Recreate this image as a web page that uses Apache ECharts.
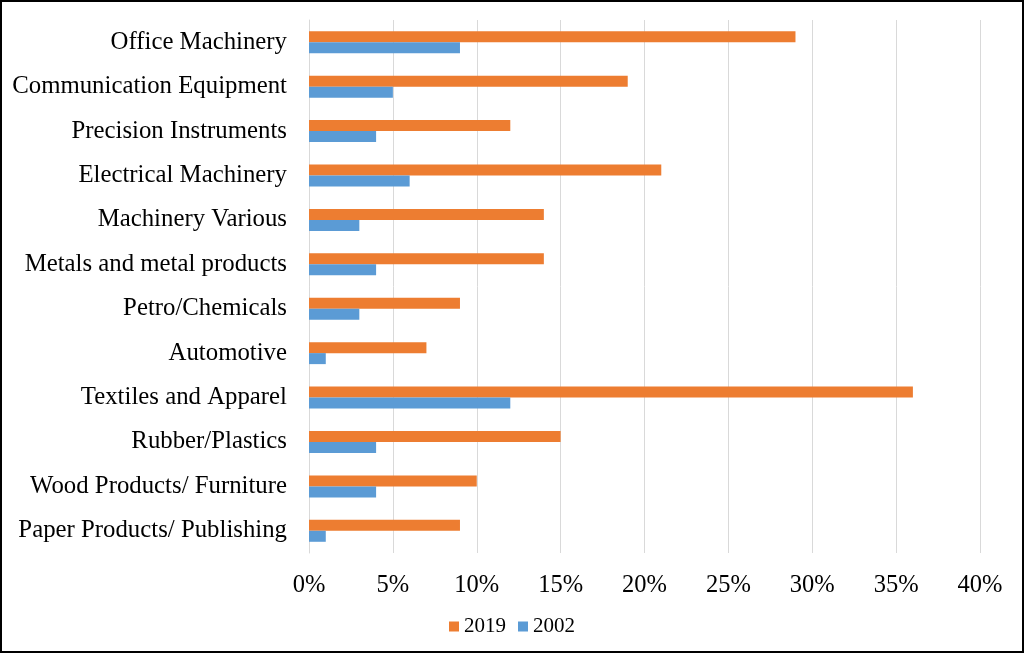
<!DOCTYPE html>
<html>
<head>
<meta charset="utf-8">
<script src="https://cdn.jsdelivr.net/npm/echarts@6/dist/echarts.min.js"></script>
<style>
html,body{margin:0;padding:0;background:#fff;}
#frame{width:1024px;height:653px;box-sizing:border-box;border:2px solid #000;position:relative;}
#c{position:absolute;left:-2px;top:-2px;width:1024px;height:653px;}
</style>
</head>
<body>
<div id="frame"><div id="c"></div></div>
<script>
const categories = ["Office Machinery","Communication Equipment","Precision Instruments","Electrical Machinery","Machinery Various","Metals and metal products","Petro/Chemicals","Automotive","Textiles and Apparel","Rubber/Plastics","Wood Products/ Furniture","Paper Products/ Publishing"];
const values2019 = [29,19,12,21,14,14,9,7,36,15,10,9];
const values2002 = [9,5,4,6,3,4,3,1,12,4,4,1];
const xTicks = [0,5,10,15,20,25,30,35,40];

const chart = echarts.init(document.getElementById('c'));
const font = '"Liberation Serif", "Times New Roman", serif';
chart.setOption({
  animation:false,
  textStyle:{fontFamily:font},
  grid:{left:309,right:44,top:20,bottom:100,containLabel:false},
  legend:{
    data:['2019','2002'],
    left:'center', top:611,
    itemWidth:10,itemHeight:10,itemGap:12,
    icon:'rect',
    textStyle:{fontFamily:font,fontSize:21,color:'#000'}
  },
  xAxis:{
    type:'value',min:xTicks[0],max:xTicks[xTicks.length-1],interval:5,
    axisLine:{show:false},axisTick:{show:false},
    axisLabel:{formatter:v=>v+'%',fontFamily:font,fontSize:24.5,color:'#000',margin:20},
    splitLine:{lineStyle:{color:'#d9d9d9',width:1}}
  },
  yAxis:{
    type:'category',data:categories,inverse:true,
    axisLine:{show:true,lineStyle:{color:'#d9d9d9'}},axisTick:{show:false},
    axisLabel:{fontFamily:font,fontSize:24.8,color:'#000',margin:22}
  },
  series:[
    {name:'2019',type:'bar',data:values2019,barWidth:11,barGap:'0%',itemStyle:{color:'#ed7d31'}},
    {name:'2002',type:'bar',data:values2002,barWidth:11,barGap:'0%',itemStyle:{color:'#5b9bd5'}}
  ]
});
</script>
</body>
</html>
